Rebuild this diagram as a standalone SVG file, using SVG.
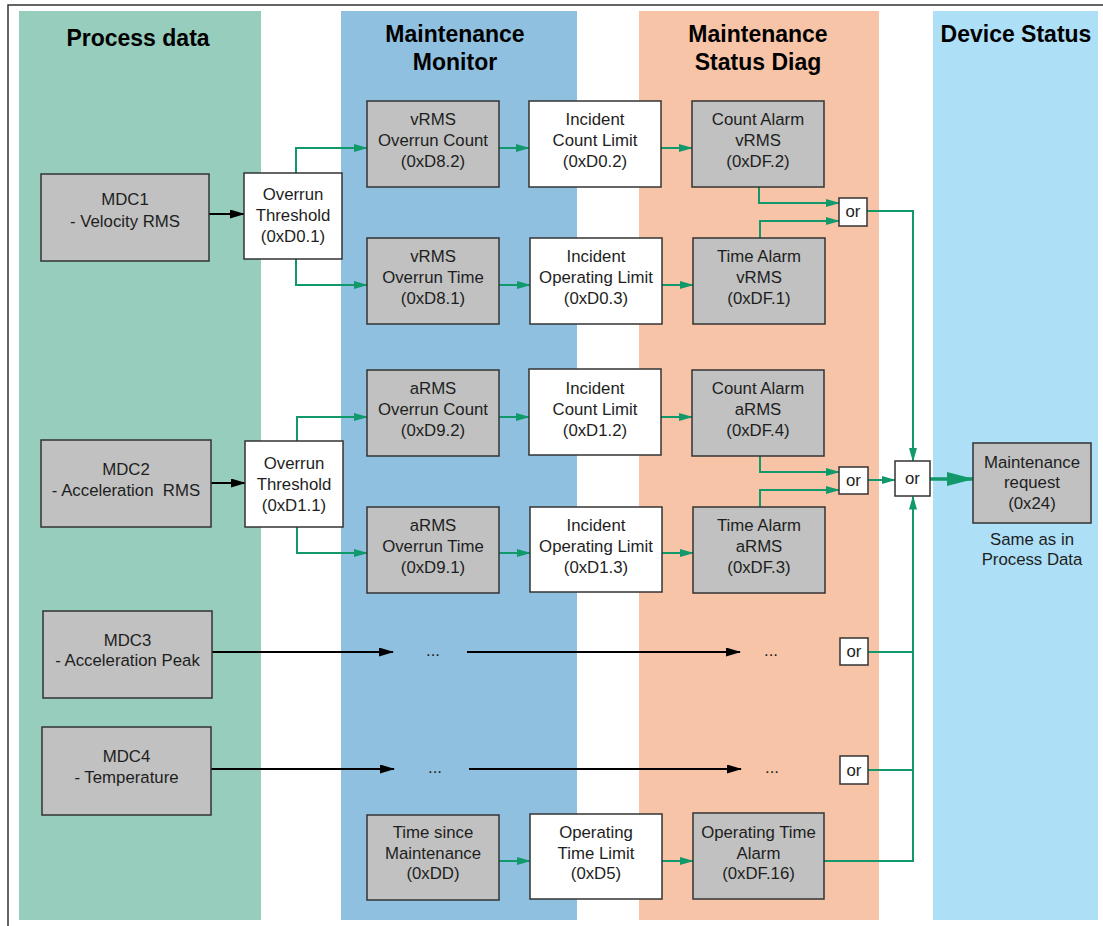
<svg xmlns="http://www.w3.org/2000/svg" width="1103" height="926" viewBox="0 0 1103 926">
<style>
.t{font-family:"Liberation Sans",Arial,sans-serif;font-size:16.8px;fill:#1e1e1e;text-anchor:middle}
.h{font-family:"Liberation Sans",Arial,sans-serif;font-size:23px;font-weight:bold;fill:#000;text-anchor:middle}
.g{fill:#c0c1c0;stroke:#333;stroke-width:1.5}
.w{fill:#fff;stroke:#333;stroke-width:1.5}
.cg{fill:none;stroke:#12996b;stroke-width:2}
.ck{fill:none;stroke:#000;stroke-width:2}
</style>
<defs>
<marker id="ag" markerUnits="userSpaceOnUse" markerWidth="14" markerHeight="8" refX="13" refY="4" orient="auto"><path d="M0,0 L14,4 L0,8 z" fill="#12996b"/></marker>
<marker id="ak" markerUnits="userSpaceOnUse" markerWidth="15" markerHeight="9" refX="14" refY="4.5" orient="auto"><path d="M0,0 L15,4.5 L0,9 z" fill="#000"/></marker>
<marker id="ab" markerUnits="userSpaceOnUse" markerWidth="27" markerHeight="14" refX="26" refY="7" orient="auto"><path d="M0,0 L27,7 L0,14 z" fill="#12996b"/></marker>
</defs>
<rect width="1103" height="926" fill="#fff"/>
<path d="M8,926 V5 H1103" fill="none" stroke="#333" stroke-width="1.5"/>
<g id="columns">
<rect x="19" y="11" width="242" height="909" fill="#97cdbc"/>
<rect x="341" y="11" width="236" height="909" fill="#90c0e0"/>
<rect x="639" y="11" width="240" height="909" fill="#f8c4a7"/>
<rect x="933" y="11" width="165" height="909" fill="#addff6"/>
<text class="h" x="138" y="46">Process data</text>
<text class="h" x="455" y="42">Maintenance</text>
<text class="h" x="455" y="70">Monitor</text>
<text class="h" x="758" y="42">Maintenance</text>
<text class="h" x="758" y="70">Status Diag</text>
<text class="h" x="1016" y="42">Device Status</text>
</g>
<g id="connectors">
<path class="ck" d="M209,214 H244" marker-end="url(#ak)"/>
<path class="ck" d="M211,483 H245" marker-end="url(#ak)"/>
<path class="ck" d="M212,652 H393" marker-end="url(#ak)"/>
<path class="ck" d="M467,652 H740" marker-end="url(#ak)"/>
<path class="ck" d="M211,769 H394" marker-end="url(#ak)"/>
<path class="ck" d="M469,769 H741" marker-end="url(#ak)"/>
<path class="cg" d="M296,173 V148 H367" marker-end="url(#ag)"/>
<path class="cg" d="M296,259 V285 H367" marker-end="url(#ag)"/>
<path class="cg" d="M499,148 H529" marker-end="url(#ag)"/>
<path class="cg" d="M661,148 H692" marker-end="url(#ag)"/>
<path class="cg" d="M499,285 H530" marker-end="url(#ag)"/>
<path class="cg" d="M662,285 H693" marker-end="url(#ag)"/>
<path class="cg" d="M759,187 V203 H839" marker-end="url(#ag)"/>
<path class="cg" d="M760,238 V221 H839" marker-end="url(#ag)"/>
<path class="cg" d="M867,211 H913 V461" marker-end="url(#ag)"/>
<path class="cg" d="M297,441 V417 H367" marker-end="url(#ag)"/>
<path class="cg" d="M297,527 V553 H367" marker-end="url(#ag)"/>
<path class="cg" d="M499,417 H529" marker-end="url(#ag)"/>
<path class="cg" d="M661,417 H692" marker-end="url(#ag)"/>
<path class="cg" d="M499,553 H530" marker-end="url(#ag)"/>
<path class="cg" d="M662,553 H693" marker-end="url(#ag)"/>
<path class="cg" d="M760,456 V472 H839" marker-end="url(#ag)"/>
<path class="cg" d="M760,507 V490 H839" marker-end="url(#ag)"/>
<path class="cg" d="M868,480 H895" marker-end="url(#ag)"/>
<path class="cg" d="M868,652 H913"/>
<path class="cg" d="M868,770 H913"/>
<path class="cg" d="M824,861 H913 V496.5" marker-end="url(#ag)"/>
<path class="cg" d="M499,861 H530" marker-end="url(#ag)"/>
<path class="cg" d="M662,861 H693" marker-end="url(#ag)"/>
<path fill="none" stroke="#12996b" stroke-width="3.5" d="M930,479 H973" marker-end="url(#ab)"/>
</g>
<g id="mdc1"><rect class="g" x="41" y="174" width="168" height="87"/><text class="t" x="125" y="205">MDC1</text><text class="t" x="125" y="227">- Velocity RMS</text></g>
<g id="ot1"><rect class="w" x="244" y="173" width="98" height="86"/><text class="t" x="293" y="200">Overrun</text><text class="t" x="293" y="221">Threshold</text><text class="t" x="293" y="242">(0xD0.1)</text></g>
<g id="vrms-count"><rect class="g" x="367" y="101" width="132" height="86"/><text class="t" x="433" y="125">vRMS</text><text class="t" x="433" y="146">Overrun Count</text><text class="t" x="433" y="167">(0xD8.2)</text></g>
<g id="vrms-time"><rect class="g" x="367" y="238" width="132" height="86"/><text class="t" x="433" y="262">vRMS</text><text class="t" x="433" y="283">Overrun Time</text><text class="t" x="433" y="304">(0xD8.1)</text></g>
<g id="icl1"><rect class="w" x="529" y="101" width="132" height="86"/><text class="t" x="595" y="125">Incident</text><text class="t" x="595" y="146">Count Limit</text><text class="t" x="595" y="167">(0xD0.2)</text></g>
<g id="iol1"><rect class="w" x="530" y="238" width="132" height="86"/><text class="t" x="596" y="262">Incident</text><text class="t" x="596" y="283">Operating Limit</text><text class="t" x="596" y="304">(0xD0.3)</text></g>
<g id="cav"><rect class="g" x="692" y="101" width="132" height="86"/><text class="t" x="758" y="125">Count Alarm</text><text class="t" x="758" y="146">vRMS</text><text class="t" x="758" y="167">(0xDF.2)</text></g>
<g id="tav"><rect class="g" x="693" y="238" width="132" height="86"/><text class="t" x="759" y="262">Time Alarm</text><text class="t" x="759" y="283">vRMS</text><text class="t" x="759" y="304">(0xDF.1)</text></g>
<g id="or1"><rect class="w" x="839" y="198" width="28" height="28"/><text class="t" x="853" y="217">or</text></g>
<g id="mdc2"><rect class="g" x="41" y="440" width="170" height="87"/><text class="t" x="126" y="475">MDC2</text><text class="t" x="126" y="496" style="white-space:pre">- Acceleration  RMS</text></g>
<g id="ot2"><rect class="w" x="245" y="441" width="98" height="86"/><text class="t" x="294" y="469">Overrun</text><text class="t" x="294" y="490">Threshold</text><text class="t" x="294" y="511">(0xD1.1)</text></g>
<g id="arms-count"><rect class="g" x="367" y="370" width="132" height="86"/><text class="t" x="433" y="394">aRMS</text><text class="t" x="433" y="415">Overrun Count</text><text class="t" x="433" y="436">(0xD9.2)</text></g>
<g id="arms-time"><rect class="g" x="367" y="507" width="132" height="86"/><text class="t" x="433" y="531">aRMS</text><text class="t" x="433" y="552">Overrun Time</text><text class="t" x="433" y="573">(0xD9.1)</text></g>
<g id="icl2"><rect class="w" x="529" y="369" width="132" height="86"/><text class="t" x="595" y="394">Incident</text><text class="t" x="595" y="415">Count Limit</text><text class="t" x="595" y="436">(0xD1.2)</text></g>
<g id="iol2"><rect class="w" x="530" y="507" width="132" height="85"/><text class="t" x="596" y="531">Incident</text><text class="t" x="596" y="552">Operating Limit</text><text class="t" x="596" y="573">(0xD1.3)</text></g>
<g id="caa"><rect class="g" x="692" y="370" width="132" height="86"/><text class="t" x="758" y="394">Count Alarm</text><text class="t" x="758" y="415">aRMS</text><text class="t" x="758" y="436">(0xDF.4)</text></g>
<g id="taa"><rect class="g" x="693" y="507" width="132" height="86"/><text class="t" x="759" y="531">Time Alarm</text><text class="t" x="759" y="552">aRMS</text><text class="t" x="759" y="573">(0xDF.3)</text></g>
<g id="or2"><rect class="w" x="839" y="467" width="29" height="27"/><text class="t" x="853.5" y="486">or</text></g>
<g id="or-main"><rect class="w" x="895" y="461" width="35" height="35"/><text class="t" x="912.5" y="484">or</text></g>
<g id="maint-request"><rect class="g" x="973" y="443" width="118" height="80"/><text class="t" x="1032" y="468">Maintenance</text><text class="t" x="1032" y="488">request</text><text class="t" x="1032" y="509">(0x24)</text><text class="t" x="1032" y="545">Same as in</text><text class="t" x="1032" y="565">Process Data</text></g>
<g id="mdc3"><rect class="g" x="43" y="611" width="169" height="87"/><text class="t" x="127.5" y="646">MDC3</text><text class="t" x="127.5" y="666">- Acceleration Peak</text></g>
<g id="dots3"><text class="t" x="433" y="656">...</text><text class="t" x="771" y="656">...</text></g>
<g id="or3"><rect class="w" x="840" y="638" width="28" height="27"/><text class="t" x="854" y="657">or</text></g>
<g id="mdc4"><rect class="g" x="42" y="727" width="169" height="88"/><text class="t" x="126.5" y="762">MDC4</text><text class="t" x="126.5" y="783">- Temperature</text></g>
<g id="dots4"><text class="t" x="435" y="773">...</text><text class="t" x="772" y="773">...</text></g>
<g id="or4"><rect class="w" x="840" y="756" width="28" height="28"/><text class="t" x="854" y="776">or</text></g>
<g id="time-since"><rect class="g" x="367" y="815" width="132" height="85"/><text class="t" x="433" y="838">Time since</text><text class="t" x="433" y="859">Maintenance</text><text class="t" x="433" y="879">(0xDD)</text></g>
<g id="otl"><rect class="w" x="530" y="814" width="132" height="85"/><text class="t" x="596" y="838">Operating</text><text class="t" x="596" y="859">Time Limit</text><text class="t" x="596" y="879">(0xD5)</text></g>
<g id="ota"><rect class="g" x="693" y="813" width="131" height="86"/><text class="t" x="758.5" y="838">Operating Time</text><text class="t" x="758.5" y="859">Alarm</text><text class="t" x="758.5" y="879">(0xDF.16)</text></g>
</svg>
